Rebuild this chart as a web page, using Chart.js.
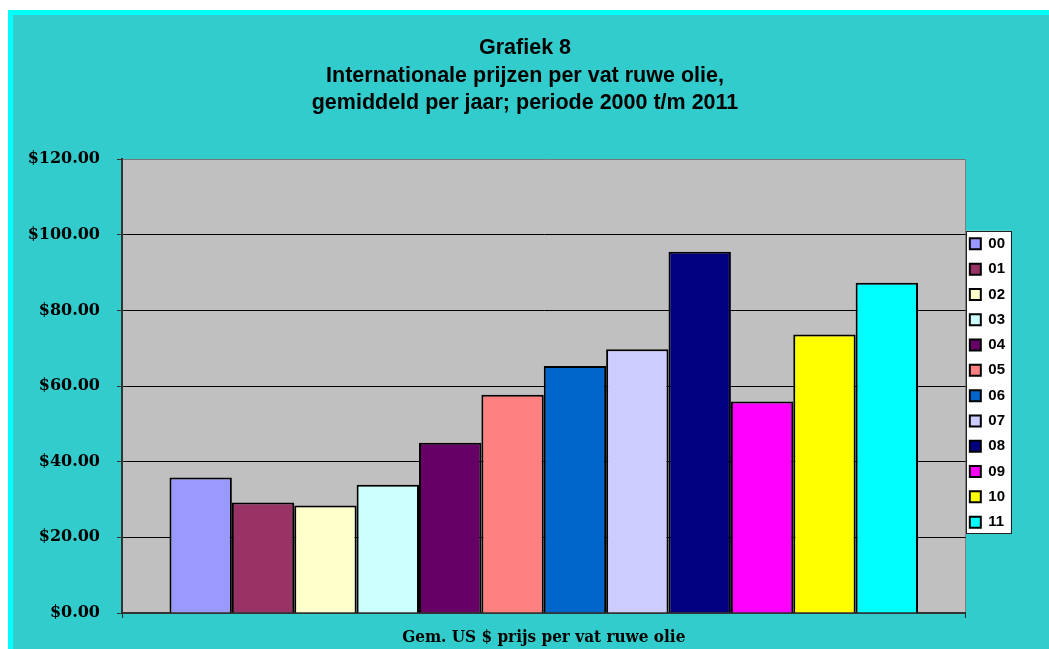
<!DOCTYPE html>
<html>
<head>
<meta charset="utf-8">
<script src="https://cdn.jsdelivr.net/npm/chart.js@4.4.1/dist/chart.umd.min.js"></script>
<style>
  html, body { margin: 0; padding: 0; background: #fff; overflow: hidden; }
  #box {
    position: absolute; left: 8px; top: 10px;
    width: 1041px; height: 639px;
    border-top: 5px solid #00ffff; border-left: 5px solid #00ffff;
    background: #33cccc;
  }
  canvas { display: block; }
</style>
</head>
<body>
<div id="box"><canvas id="myChart" width="1036" height="634"></canvas></div>
<script>
const years = ["00", "01", "02", "03", "04", "05", "06", "07", "08", "09", "10", "11"];
const prices = [35.8, 29.2, 28.4, 33.9, 45.0, 57.7, 65.3, 69.7, 95.5, 55.9, 73.6, 87.3];
const barColors = ["#9999ff", "#993366", "#ffffcc", "#ccffff", "#660066", "#ff8080",
                   "#0066cc", "#ccccff", "#000080", "#ff00ff", "#ffff00", "#00ffff"];
const titleLines = ["Grafiek 8", "Internationale prijzen per vat ruwe olie,",
                    "gemiddeld per jaar; periode 2000 t/m 2011"];
const xTitle = "Gem. US $ prijs per vat ruwe olie";

// gray plot area + white legend box
const backdrop = {
  id: "backdrop",
  afterLayout(chart) {
    chart.legend.left -= 6; chart.legend.right -= 6;
    chart.legend.top += 51; chart.legend.bottom += 51;
    chart.titleBlock.left += 8; chart.titleBlock.right += 8;
  },
  beforeDraw(chart) {
    const {ctx, chartArea: a} = chart;
    ctx.save();
    ctx.fillStyle = "#c0c0c0";
    ctx.fillRect(a.left, a.top, a.right - a.left, a.bottom - a.top);
    const hb = chart.legend.legendHitBoxes;
    if (hb && hb.length) {
      const l = hb[0].left - 4, t = hb[0].top - 5.5;
      const r = hb[0].left + 41, b = hb[hb.length - 1].top + 18.5;
      ctx.fillStyle = "#fff";
      ctx.fillRect(l, t, r - l, b - t);
      ctx.strokeStyle = "#222";
      ctx.lineWidth = 1;
      ctx.strokeRect(Math.round(l) + 0.5, Math.round(t) + 0.5, Math.round(r - l), Math.round(b - t));
    }
    ctx.restore();
  }
};

new Chart("myChart", {
  type: "bar",
  data: {
    labels: [""],
    datasets: years.map((y, i) => ({
      label: y,
      data: [prices[i]],
      backgroundColor: barColors[i],
      borderColor: "#000",
      borderWidth: 2,
      categoryPercentage: 0.8874,
      barPercentage: 1
    }))
  },
  options: {
    responsive: false,
    animation: false,
    layout: { padding: { left: 0, right: 28, top: 0, bottom: 0 } },
    plugins: {
      tooltip: { enabled: false },
      title: {
        display: true,
        text: titleLines,
        color: "#000",
        font: { family: "'Liberation Sans', Arial", size: 21.5, weight: "bold", lineHeight: 1.28 },
        padding: { top: 19.5, bottom: 42 }
      },
      legend: {
        position: "right",
        labels: {
          color: "#000",
          font: { family: "'Liberation Sans', Arial", size: 15, weight: "bold" },
          boxWidth: 11,
          boxHeight: 11,
          padding: 10.3
        }
      }
    },
    scales: {
      x: {
        z: 1,
        grid: { color: "#808080", tickColor: "#222", tickLength: 5, offset: true },
        border: { color: "#333", width: 2 },
        ticks: { display: false },
        title: {
          display: true,
          text: xTitle,
          color: "#000",
          font: { family: "'DejaVu Serif Condensed', 'DejaVu Serif'", size: 17, weight: "bold", lineHeight: 1.2 },
          padding: { top: 9.6, bottom: 1 }
        }
      },
      y: {
        min: 0,
        max: 120,
        afterFit(s) { s.width = 109; },
        grid: {
          color: c => c.tick.value === 120 ? "#777" : "#000",
          tickColor: "#333",
          tickLength: 5
        },
        border: { color: "#333", width: 2 },
        ticks: {
          stepSize: 20,
          padding: 17,
          color: "#000",
          font: { family: "'DejaVu Serif'", size: 16, weight: "bold" },
          callback: v => "$" + v.toFixed(2)
        }
      }
    }
  },
  plugins: [backdrop]
});
</script>
</body>
</html>
